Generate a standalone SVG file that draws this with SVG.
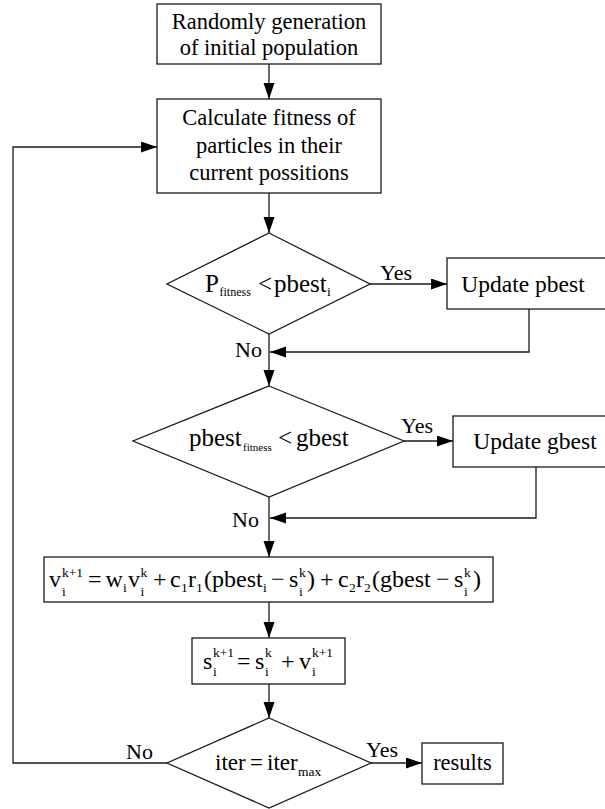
<svg xmlns="http://www.w3.org/2000/svg" width="605" height="809" viewBox="0 0 605 809">
<style>
  .shape { fill: #fff; stroke: #1a1a1a; stroke-width: 1.3; }
  .conn { fill: none; stroke: #1a1a1a; stroke-width: 1.3; }
  .t { font-family: "Liberation Serif", "Times New Roman", serif; font-size: 22.5px; fill: #000; text-anchor: middle; }
  .lbl { font-family: "Liberation Serif", "Times New Roman", serif; font-size: 22px; fill: #000; }
  .m { font-family: "Liberation Serif", "Times New Roman", serif; font-size: 24px; fill: #000; }
  .d { font-size: 25px; }
  .s { font-size: 13.5px; }
  .ss { font-size: 12px; }
</style>
<defs>
  <marker id="ah" markerUnits="userSpaceOnUse" markerWidth="17" markerHeight="12" refX="16" refY="5.5" orient="auto">
    <path d="M0,0 L16,5.5 L0,11 z" fill="#000"/>
  </marker>
</defs>

<g id="connectors">
  <line class="conn" x1="269" y1="64" x2="269" y2="99" marker-end="url(#ah)"/>
  <line class="conn" x1="269" y1="193" x2="269" y2="233" marker-end="url(#ah)"/>
  <line class="conn" x1="370" y1="284" x2="447" y2="284" marker-end="url(#ah)"/>
  <polyline class="conn" points="529,309 529,352 270,352" marker-end="url(#ah)"/>
  <line class="conn" x1="269" y1="334" x2="269" y2="386" marker-end="url(#ah)"/>
  <line class="conn" x1="404" y1="441" x2="453" y2="441" marker-end="url(#ah)"/>
  <polyline class="conn" points="536,467 536,518 270,518" marker-end="url(#ah)"/>
  <line class="conn" x1="269" y1="497" x2="269" y2="557" marker-end="url(#ah)"/>
  <line class="conn" x1="269" y1="602" x2="269" y2="638" marker-end="url(#ah)"/>
  <line class="conn" x1="269" y1="684" x2="269" y2="718" marker-end="url(#ah)"/>
  <line class="conn" x1="371" y1="763" x2="422" y2="763" marker-end="url(#ah)"/>
  <polyline class="conn" points="167,763 13,763 13,147 157,147" marker-end="url(#ah)"/>
  <text class="lbl" x="380" y="280">Yes</text>
  <text class="lbl" x="235" y="357">No</text>
  <text class="lbl" x="401" y="433">Yes</text>
  <text class="lbl" x="232" y="527">No</text>
  <text class="lbl" x="126" y="759">No</text>
  <text class="lbl" x="366" y="757">Yes</text>
</g>

<g id="init">
  <rect class="shape" x="157" y="4" width="224" height="60"/>
  <text class="t" x="269" y="28.5">Randomly generation</text>
  <text class="t" x="269" y="55">of initial population</text>
</g>

<g id="fitness">
  <rect class="shape" x="157" y="99" width="224" height="94"/>
  <text class="t" x="269" y="125">Calculate fitness of</text>
  <text class="t" x="269" y="152.5">particles in their</text>
  <text class="t" x="269" y="180">current possitions</text>
</g>

<g id="cond-pbest">
  <polygon class="shape" points="269,233 370,284 269,334 167,284"/>
  <text class="m d">
    <tspan x="205" y="292">P</tspan><tspan class="ss" x="219.5" y="296">fitness</tspan>
    <tspan x="258" y="292">&lt;</tspan>
    <tspan x="274" y="292">pbest</tspan><tspan class="s" x="327" y="296">i</tspan>
  </text>
</g>

<g id="update-pbest">
  <rect class="shape" x="447" y="258" width="170" height="51"/>
  <text class="t" x="523" y="292" style="font-size:23.5px">Update pbest</text>
</g>

<g id="cond-gbest">
  <polygon class="shape" points="269,386 404,441 269,497 133,441"/>
  <text class="m d">
    <tspan x="189" y="446">pbest</tspan><tspan class="ss" x="243" y="451" style="font-size:11px">fitness</tspan>
    <tspan x="278" y="446">&lt;</tspan>
    <tspan x="296" y="446">gbest</tspan>
  </text>
</g>

<g id="update-gbest">
  <rect class="shape" x="453" y="416" width="170" height="51"/>
  <text class="t" x="535" y="449" style="font-size:23.5px">Update gbest</text>
</g>

<g id="velocity">
  <rect class="shape" x="44" y="557" width="449" height="45"/>
  <text class="m">
    <tspan x="49" y="587">v</tspan><tspan class="s" x="62" y="577">k+1</tspan><tspan class="s" x="62" y="596">i</tspan>
    <tspan x="88" y="587">=</tspan>
    <tspan x="105.5" y="587">w</tspan><tspan class="s" x="123" y="592">i</tspan>
    <tspan x="128" y="587">v</tspan><tspan class="s" x="140.5" y="577">k</tspan><tspan class="s" x="140.5" y="596">i</tspan>
    <tspan x="153" y="587">+</tspan>
    <tspan x="170" y="587">c</tspan><tspan class="s" x="181" y="592">1</tspan>
    <tspan x="188" y="587">r</tspan><tspan class="s" x="196" y="592">1</tspan>
    <tspan x="204" y="587">(pbest</tspan><tspan class="s" x="263" y="592">i</tspan>
    <tspan x="271" y="587">−</tspan>
    <tspan x="289" y="587">s</tspan><tspan class="s" x="299" y="577">k</tspan><tspan class="s" x="299" y="596">i</tspan>
    <tspan x="307" y="587">)</tspan>
    <tspan x="320" y="587">+</tspan>
    <tspan x="338" y="587">c</tspan><tspan class="s" x="349" y="592">2</tspan>
    <tspan x="356" y="587">r</tspan><tspan class="s" x="364" y="592">2</tspan>
    <tspan x="372" y="587">(gbest</tspan>
    <tspan x="436" y="587">−</tspan>
    <tspan x="454" y="587">s</tspan><tspan class="s" x="464" y="577">k</tspan><tspan class="s" x="464" y="596">i</tspan>
    <tspan x="473" y="587">)</tspan>
  </text>
</g>

<g id="position">
  <rect class="shape" x="192" y="638" width="153" height="46"/>
  <text class="m">
    <tspan x="203" y="669">s</tspan><tspan class="s" x="213" y="657">k+1</tspan><tspan class="s" x="213" y="676">i</tspan>
    <tspan x="237" y="669">=</tspan>
    <tspan x="255" y="669">s</tspan><tspan class="s" x="265" y="657">k</tspan><tspan class="s" x="265" y="676">i</tspan>
    <tspan x="281" y="669">+</tspan>
    <tspan x="299" y="669">v</tspan><tspan class="s" x="312" y="657">k+1</tspan><tspan class="s" x="312" y="676">i</tspan>
  </text>
</g>

<g id="cond-iter">
  <polygon class="shape" points="269,718 371,763 269,808 167,763"/>
  <text class="m" style="font-size:23px">
    <tspan x="215" y="770">iter</tspan>
    <tspan x="250" y="770">=</tspan>
    <tspan x="267" y="770">iter</tspan><tspan class="s" x="298" y="776">max</tspan>
  </text>
</g>

<g id="results">
  <rect class="shape" x="422" y="743" width="81" height="41"/>
  <text class="t" x="462.5" y="770">results</text>
</g>
</svg>
